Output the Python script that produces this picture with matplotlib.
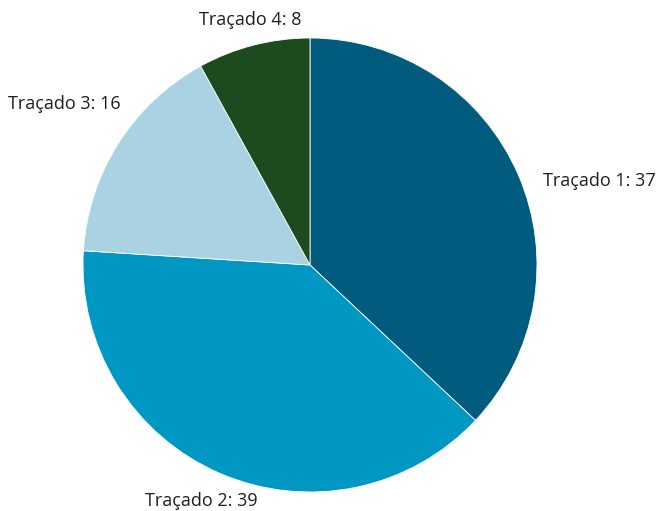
import matplotlib
matplotlib.use("Agg")
import matplotlib.pyplot as plt

labels = ["Traçado 1", "Traçado 2", "Traçado 3", "Traçado 4"]
values = [37, 39, 16, 8]
colors = ["#005b7f", "#0098c3", "#a9d3e2", "#1d4a1f"]

W, H = 659, 511
cx, cy, r = 310, 265, 227

fig = plt.figure(figsize=(W / 100, H / 100), dpi=100)
ax = fig.add_axes([(cx - r) / W, (H - cy - r) / H, 2 * r / W, 2 * r / H])
ax.pie(values, colors=colors, startangle=90, counterclock=False,
       wedgeprops=dict(edgecolor="white", linewidth=0.6))
ax.set_xlim(-1, 1)
ax.set_ylim(-1, 1)
ax.set_aspect("equal")
ax.axis("off")

# text anchors (data units, pie radius = 1) and alignment per label
spots = [(1.026, 0.37, "left"), (-0.48, -1.04, "center"),
         (-1.33, 0.71, "left"), (-0.264, 1.08, "center")]
for lab, v, (x, y, ha) in zip(labels, values, spots):
    ax.text(x, y, f"{lab}: {v}", ha=ha, va="center", fontsize=13,
            family="Open Sans", color="#1e1e1e", clip_on=False)

fig.savefig("out.png", dpi=100)
